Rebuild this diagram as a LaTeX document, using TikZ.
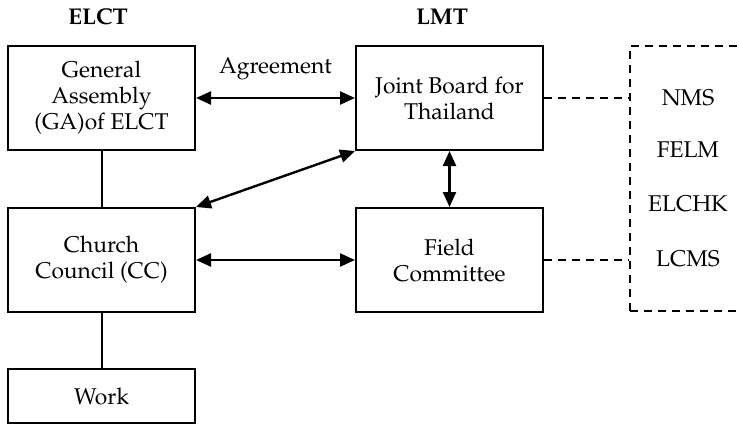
\documentclass[tikz,border=0pt]{standalone}
\usepackage[T1]{fontenc}
\usepackage{mathpazo}
\usetikzlibrary{arrows.meta}
\tikzset{
	box/.style={draw, line width=1pt, minimum width=93.5pt, minimum height=52pt, align=center, inner sep=2pt},
	title/.style={font=\fontsize{11.4}{13}\selectfont\bfseries},
	link/.style={line width=1.2pt, {Triangle[length=7.5pt,width=6.5pt]}-{Triangle[length=7.5pt,width=6.5pt]}},
	dashlink/.style={line width=0.9pt, dash pattern=on 4pt off 3pt}
}
\begin{document}
\begin{tikzpicture}[auto, x=0.5pt, y=-0.5pt, font=\fontsize{11.4}{13}\selectfont]
				\useasboundingbox (0,0) rectangle (739,425);
				\node[title] (elct) at (98,17) {ELCT};
				\node[title] (lmt) at (442,17) {LMT};
				\node[box] (ga) at (101.5,98) {General\\Assembly\\(GA)of ELCT};
				\node[box] (jb) at (449.5,98) {Joint Board for\\Thailand};
				\node[box] (cc) at (101.5,260) {Church\\Council (CC)};
				\node[box] (fc) at (449.5,260) {Field\\Committee};
				\node[box, minimum height=27pt] (w) at (101.5,396) {Work};
				\node[draw, line width=0.9pt, dash pattern=on 4pt off 3pt, minimum width=58.5pt, minimum height=132.5pt] (m) at (688.5,178.5) {};
				\node (nms) at (688,98) {NMS};
				\node (felm) at (688,150) {FELM};
				\node (elchk) at (688,204) {ELCHK};
				\node (lcms) at (688,259) {LCMS};
				\draw[link] (ga) to node[above=5pt] {Agreement}(jb);
				\draw[link] (jb.south west) to (cc.north east);
				\draw[link] (jb) to (fc);
				\draw[link] (cc) to (fc);
				\draw[line width=1pt] (ga) to (cc);
				\draw[line width=1pt] (cc) to (w);
				\draw[dashlink] (jb) to (jb -| m.west);
				\draw[dashlink] (fc) to (fc -| m.west);
			\end{tikzpicture}
\end{document}
